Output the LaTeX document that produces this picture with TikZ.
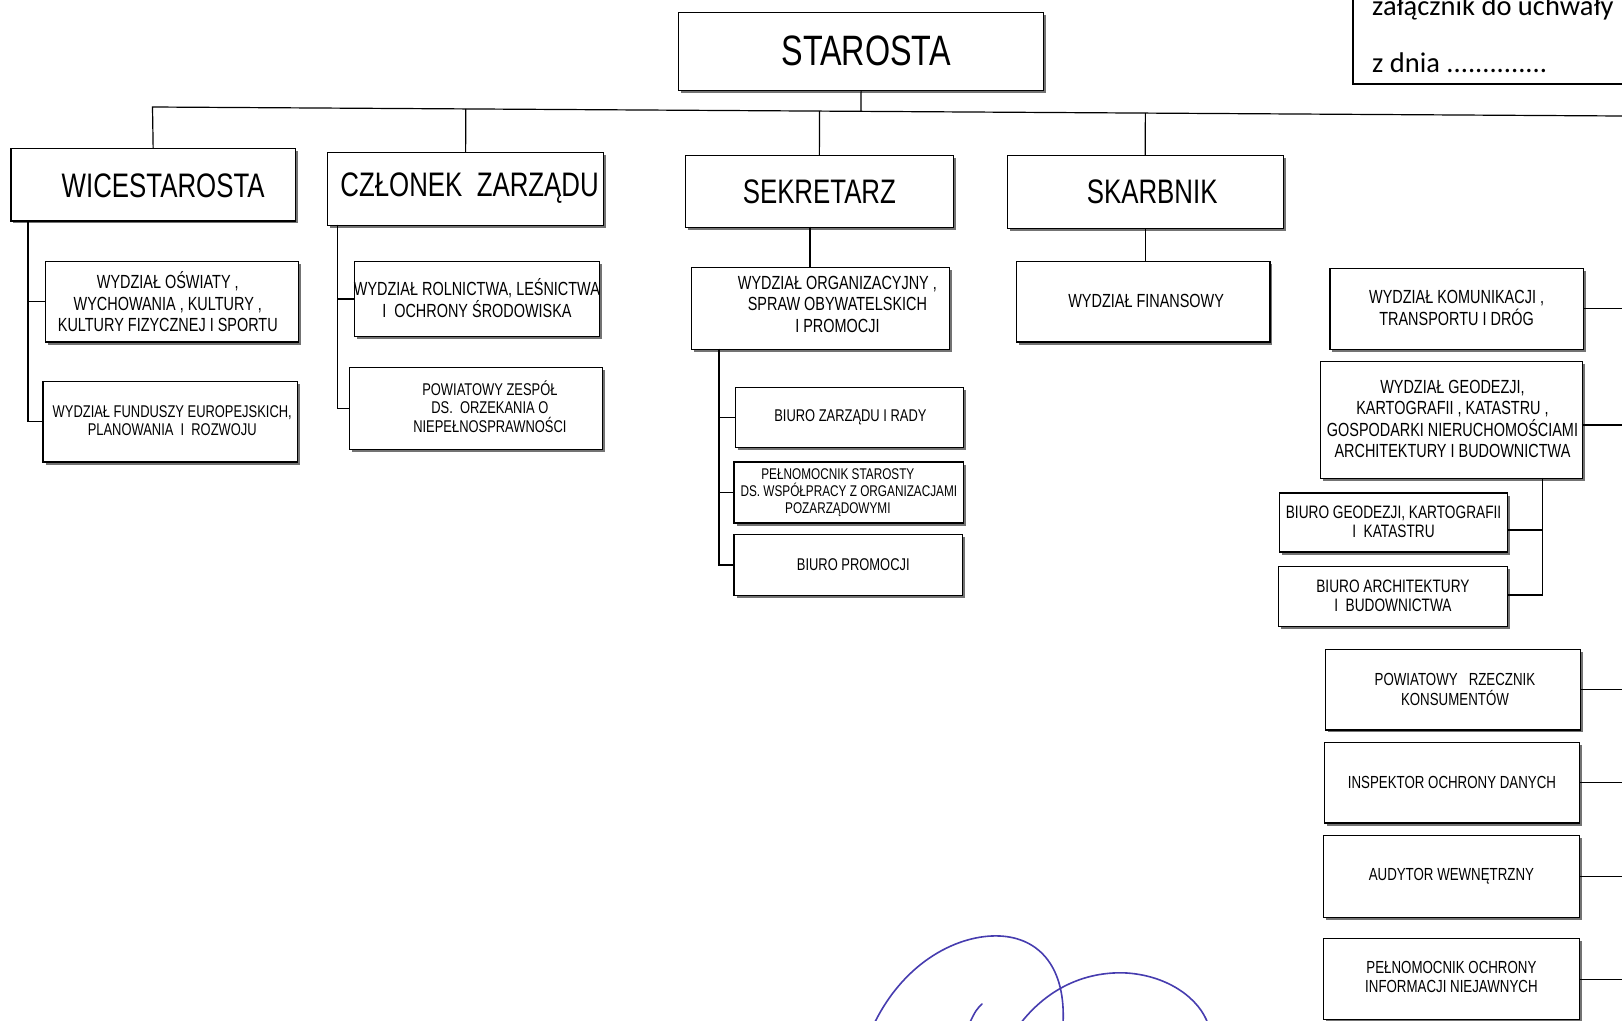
\documentclass[tikz,border=0pt]{standalone}
\usepackage{fontspec}
\setmainfont{Liberation Sans}[FakeStretch=0.76]
\newfontfamily\calib{Carlito}
\usetikzlibrary{shadows,calc}
\tikzset{
  obox/.style={draw=black, line width=1.2pt, fill=white, inner sep=0pt, anchor=north west,
    drop shadow={shadow xshift=2.5pt, shadow yshift=-2.5pt, fill=black!55, opacity=1}},
  conn/.style={draw=black, line width=1.2pt},
  ftop/.style={font=\fontsize{42.5}{46}\selectfont},
  fhead/.style={font=\fontsize{34}{38}\selectfont},
  fbig/.style={font=\fontsize{19}{21.5}\selectfont},
  fsmall/.style={font=\fontsize{17}{18.5}\selectfont},
  fright/.style={font=\fontsize{17.5}{19.5}\selectfont},
  fbur/.style={font=\fontsize{18}{19}\selectfont},
  ftiny/.style={font=\fontsize{15.5}{17}\selectfont},
  sig/.style={draw={rgb,255:red,70;green,60;blue,175}, line width=1.6pt, line cap=round},
}
\newcommand\orgbox[8][0,0]{%
  \node[obox, minimum width={(#5-#3)*1pt}, minimum height={(#6-#4)*1pt}] (#2) at (#3,#4) {};
  \node[#7, align=center, inner sep=0pt] (#2t) at ($(#2.center)+(#1)$) {#8};
}
\begin{document}
\begin{tikzpicture}[x=1pt,y=-1pt]
\useasboundingbox (0,0) rectangle (1622,1020);
\clip (0,0) rectangle (1622,1020);

% top level
\orgbox[5,-1]{star}{678}{12}{1043}{90}{ftop}{STAROSTA}
\orgbox[10,1]{wice}{10.3}{147.9}{294.8}{220.3}{fhead}{WICESTAROSTA}
\orgbox[4,-1]{czl}{326.9}{152.1}{603.1}{224.5}{fhead}{CZŁONEK\ \ ZARZĄDU}
\orgbox{sekr}{684.8}{155.2}{952.7}{226.5}{fhead}{SEKRETARZ}
\orgbox[7,0]{skarb}{1006.5}{155.2}{1282.7}{227.6}{fhead}{SKARBNIK}

% wicestarosta
\orgbox[-4,0]{osw}{44.5}{260.7}{297.9}{341.4}{fbig}{WYDZIAŁ OŚWIATY ,\\WYCHOWANIA , KULTURY ,\\KULTURY FIZYCZNEJ I SPORTU}
\orgbox[2,-1]{fund}{42.4}{380.7}{296.9}{461.4}{fsmall}{WYDZIAŁ FUNDUSZY EUROPEJSKICH,\\PLANOWANIA\ \ I\ \ ROZWOJU}

% czlonek
\orgbox[0,-1]{rol}{353.8}{260.7}{598.9}{336.2}{fbig}{WYDZIAŁ ROLNICTWA, LEŚNICTWA\\I\ \ OCHRONY ŚRODOWISKA}
\orgbox[14,-2]{pzo}{348.6}{367.2}{602}{449}{fsmall}{POWIATOWY ZESPÓŁ\\DS.\ \ ORZEKANIA O\\NIEPEŁNOSPRAWNOŚCI}

% sekretarz
\orgbox[17,-4]{org}{691}{266.9}{948.6}{348.6}{fbig}{WYDZIAŁ ORGANIZACYJNY ,\\SPRAW OBYWATELSKICH\\I PROMOCJI}
\orgbox[1,0]{bzr}{734.5}{386.9}{963.1}{446.9}{fsmall}{BIURO ZARZĄDU I RADY}
\orgbox{pst}{733.4}{461.4}{963.1}{522.4}{ftiny}{PEŁNOMOCNIK STAROSTY\hspace*{22pt}\mbox{}\\DS. WSPÓŁPRACY Z ORGANIZACJAMI\\POZARZĄDOWYMI\hspace*{22pt}\mbox{}}
\orgbox[5,0]{bpr}{733.4}{533.8}{962}{594.8}{fsmall}{BIURO PROMOCJI}

% skarbnik
\orgbox[3,-1]{fin}{1015.8}{260.7}{1269.3}{341.4}{fbig}{WYDZIAŁ FINANSOWY}

% right column
\orgbox[0,-1]{kom}{1329.3}{267.9}{1582.7}{348.6}{fbig}{WYDZIAŁ KOMUNIKACJI ,\\TRANSPORTU I DRÓG}
\orgbox[1,-1]{geo}{1320}{361}{1581.7}{477.9}{fbig}{WYDZIAŁ GEODEZJI,\\KARTOGRAFII , KATASTRU ,\\GOSPODARKI NIERUCHOMOŚCIAMI\\ARCHITEKTURY I BUDOWNICTWA}
\orgbox[0,-1]{bgeo}{1278.6}{492.4}{1507.2}{551.4}{fbur}{BIURO GEODEZJI, KARTOGRAFII\\I\ \ KATASTRU}
\orgbox[0,-1]{barch}{1277.5}{565.8}{1507.2}{625.8}{fbur}{BIURO ARCHITEKTURY\\I\ \ BUDOWNICTWA}
\orgbox[2,0]{rz}{1325.1}{648.6}{1579.6}{729.3}{fright}{POWIATOWY\ \ \ RZECZNIK\\KONSUMENTÓW}
\orgbox[0,0]{insp}{1324.1}{741.7}{1578.6}{822.4}{fright}{INSPEKTOR OCHRONY DANYCH}
\orgbox[0,0]{aud}{1323}{834.8}{1578.6}{916.5}{fright}{AUDYTOR WEWNĘTRZNY}
\orgbox[0,-2]{poch}{1323}{938.2}{1578.6}{1018.9}{fright}{PEŁNOMOCNIK OCHRONY\\INFORMACJI NIEJAWNYCH}

% top-right note box
\node[draw=black, line width=1.6pt, anchor=north west, minimum width=300pt, minimum height=103pt, inner sep=0pt] (zal) at (1352,-20) {};
\node[font=\calib\fontsize{28.5}{30}\selectfont, anchor=base west, inner sep=0pt] (zal1) at (1372,15) {załącznik do uchwały};
\node[font=\calib\fontsize{28.5}{30}\selectfont, anchor=base west, inner sep=0pt] (zal2) at (1372,72) {z dnia ..............};

% bus (slightly skewed, as scanned)
\coordinate (busL) at (152.5,107);
\coordinate (busR) at (1622,116);
\draw[conn] (wice.north) -- (busL) -- (busR);
\draw[conn] (star.south) -- ($(busL)!(star.south)!(busR)$);
\draw[conn] (czl.north) -- ($(busL)!(czl.north)!(busR)$);
\draw[conn] (sekr.north) -- ($(busL)!(sekr.north)!(busR)$);
\draw[conn] (skarb.north) -- ($(busL)!(skarb.north)!(busR)$);

% wicestarosta branch
\coordinate (wv) at (27.9,220.3);
\draw[conn] (wv) |- (fund.west);
\draw[conn] (wv |- osw.west) -- (osw.west);

% czlonek branch
\coordinate (cv) at (337.2,224.5);
\draw[conn] (cv) |- (pzo.west);
\draw[conn] (cv |- rol.west) -- (rol.west);

% sekretarz branch
\coordinate (sv) at (810,226.5);
\draw[conn] (sv) -- (sv |- org.north);
\coordinate (ov) at (719,348.6);
\draw[conn] (ov) |- (bpr.west);
\draw[conn] (ov |- bzr.west) -- (bzr.west);
\draw[conn] (ov |- pst.west) -- (pst.west);

% skarbnik branch
\draw[conn] (skarb.south) -- (skarb.south |- fin.north);

% right column stubs
\coordinate (redge) at (1622,0);
\draw[conn] (kom.east) -- (kom.east -| redge);
\coordinate (gs) at (1581.7,425);
\draw[conn] (gs) -- (gs -| redge);
\draw[conn] (rz.east) -- (rz.east -| redge);
\draw[conn] (insp.east) -- (insp.east -| redge);
\draw[conn] (aud.east) -- (aud.east -| redge);
\draw[conn] (poch.east) -- (poch.east -| redge);
\coordinate (gv) at (1542.4,477.9);
\coordinate (gb1) at (1507.2,530);
\coordinate (gb2) at (1507.2,595);
\draw[conn] (gv) |- (gb2);
\draw[conn] (gv |- gb1) -- (gb1);

% signature
\draw[sig] (874,1024) .. controls (905,960) and (960,934) .. (1000,936) .. controls (1040,938) and (1066,968) .. (1063,1024);
\draw[sig] (1020,1024) .. controls (1050,985) and (1090,971) .. (1127,973) .. controls (1170,976) and (1200,1000) .. (1208,1024);
\draw[sig] (982,1004) .. controls (976,1010) .. (969,1024);
\end{tikzpicture}
\end{document}
